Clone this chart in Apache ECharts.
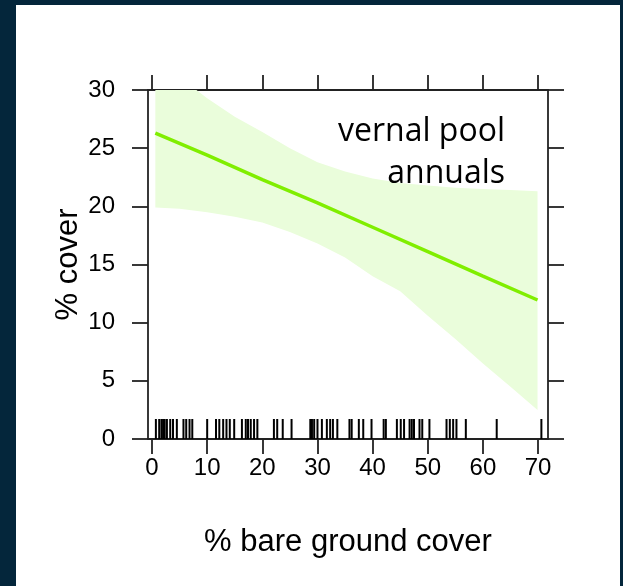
<!DOCTYPE html>
<html>
<head>
<meta charset="utf-8">
<script src="https://cdn.jsdelivr.net/npm/echarts@6/dist/echarts.min.js"></script>
<style>
  html, body { margin: 0; padding: 0; background: #04263b; }
  #chart { position: absolute; left: 16px; top: 5px; width: 604px; height: 581px; background: #fff; }
</style>
</head>
<body>
<div id="chart"></div>
<script>
// fitted line
const fitX = [0.6, 10, 20, 30, 40, 50, 60, 69.9];
const fitY = [26.3, 24.4, 22.3, 20.3, 18.2, 16.1, 14.0, 11.95];

// confidence band
const bandX = [0.6, 5, 10, 15, 20, 25, 30, 35, 40, 45, 50, 55, 60, 65, 69.9];
const bandLow = [19.9, 19.8, 19.5, 19.1, 18.6, 17.8, 16.8, 15.6, 14.0, 12.7, 10.6, 8.6, 6.5, 4.5, 2.5];
const bandHigh = [32.8, 31.1, 29.3, 27.7, 26.4, 25.0, 23.8, 23.0, 22.4, 22.0, 21.8, 21.6, 21.5, 21.4, 21.3];

// rug of observed bare ground values
const rug = [0.7, 1.3, 1.7, 2.0, 2.3, 2.7, 3.3, 3.8, 4.5, 5.7, 6.2, 6.8, 7.3,
  10.0, 11.6, 12.2, 12.9, 13.5, 14.1, 14.9, 16.3, 17.0, 17.4, 17.9, 18.5, 19.1,
  22.1, 22.7, 23.7, 25.3, 28.7, 29.0, 29.4, 30.0, 30.8, 31.7, 32.3, 32.8, 33.6,
  35.8, 36.2, 37.5, 38.3, 39.8, 42.0, 42.4, 44.4, 45.1, 45.7, 46.7, 47.1, 47.5,
  48.5, 49.0, 50.3, 53.4, 54.0, 54.6, 55.2, 56.9, 62.5, 70.6];

const xTicks = [0, 10, 20, 30, 40, 50, 60, 70];
const xTitle = '% bare ground cover';
const yTitle = '% cover';
const note = ['vernal pool', 'annuals'];

const axisFont = 'Liberation Sans, Arial, sans-serif';
const lineCol = '#222';

const chart = echarts.init(document.getElementById('chart'));

const xBase = {
  type: 'value', min: -0.73, max: 71.8,
  splitLine: { show: false },
  axisLine: { onZero: false, lineStyle: { color: lineCol, width: 1.8 } },
  axisTick: { inside: false, length: 15, customValues: xTicks, lineStyle: { color: lineCol, width: 1.8 } }
};
const yBase = {
  type: 'value', min: 0, max: 30, interval: 5,
  splitLine: { show: false },
  axisLine: { onZero: false, lineStyle: { color: lineCol, width: 1.8 } },
  axisTick: { inside: false, length: 16, lineStyle: { color: lineCol, width: 1.8 } }
};

const option = {
  animation: false,
  grid: { left: 132, top: 85, width: 400, height: 349, containLabel: false, outerBoundsMode: 'none' },
  xAxis: [
    Object.assign({}, xBase, {
      position: 'bottom',
      axisLabel: { customValues: xTicks, margin: 17, fontSize: 24, color: '#000', fontFamily: axisFont },
      name: xTitle, nameLocation: 'middle', nameGap: 88, nameMoveOverlap: false,
      nameTextStyle: { fontSize: 31, color: '#000', fontFamily: axisFont }
    }),
    Object.assign({}, xBase, { position: 'top', axisLabel: { show: false } })
  ],
  yAxis: [
    Object.assign({}, yBase, {
      position: 'left',
      axisLabel: { margin: 33, fontSize: 24, color: '#000', fontFamily: axisFont },
      name: yTitle, nameLocation: 'middle', nameGap: 64, nameMoveOverlap: false,
      nameTextStyle: { fontSize: 31, color: '#000', fontFamily: axisFont }
    }),
    Object.assign({}, yBase, { position: 'right', axisLabel: { show: false } })
  ],
  graphic: [{
    type: 'text', x: 489, y: 106, z: 100,
    style: {
      text: note.join('\n'), align: 'right', verticalAlign: 'top', lineHeight: 42,
      fontSize: 32, fontFamily: 'Open Sans', fill: '#000'
    }
  }],
  series: [
    {
      type: 'custom', silent: true,
      data: [0],
      renderItem: (params, api) => {
        const top = bandX.map((x, i) => api.coord([x, bandHigh[i]]));
        const bottom = bandX.map((x, i) => api.coord([x, bandLow[i]])).reverse();
        const cs = params.coordSys;
        return {
          type: 'polygon',
          shape: { points: top.concat(bottom) },
          style: { fill: '#eafddb' },
          clipPath: { type: 'rect', shape: { x: cs.x, y: cs.y, width: cs.width, height: cs.height } }
        };
      }
    },
    {
      type: 'line', symbol: 'none', silent: true,
      lineStyle: { color: '#80ee00', width: 3.5 },
      data: fitX.map((x, i) => [x, fitY[i]])
    },
    {
      type: 'custom', silent: true,
      data: rug.map(v => [v, 0]),
      renderItem: (params, api) => {
        const p = api.coord([api.value(0), 0]);
        return {
          type: 'line',
          shape: { x1: p[0], y1: p[1], x2: p[0], y2: p[1] - 20 },
          style: { stroke: '#000', lineWidth: 2 }
        };
      }
    }
  ]
};

chart.setOption(option);
</script>
</body>
</html>
